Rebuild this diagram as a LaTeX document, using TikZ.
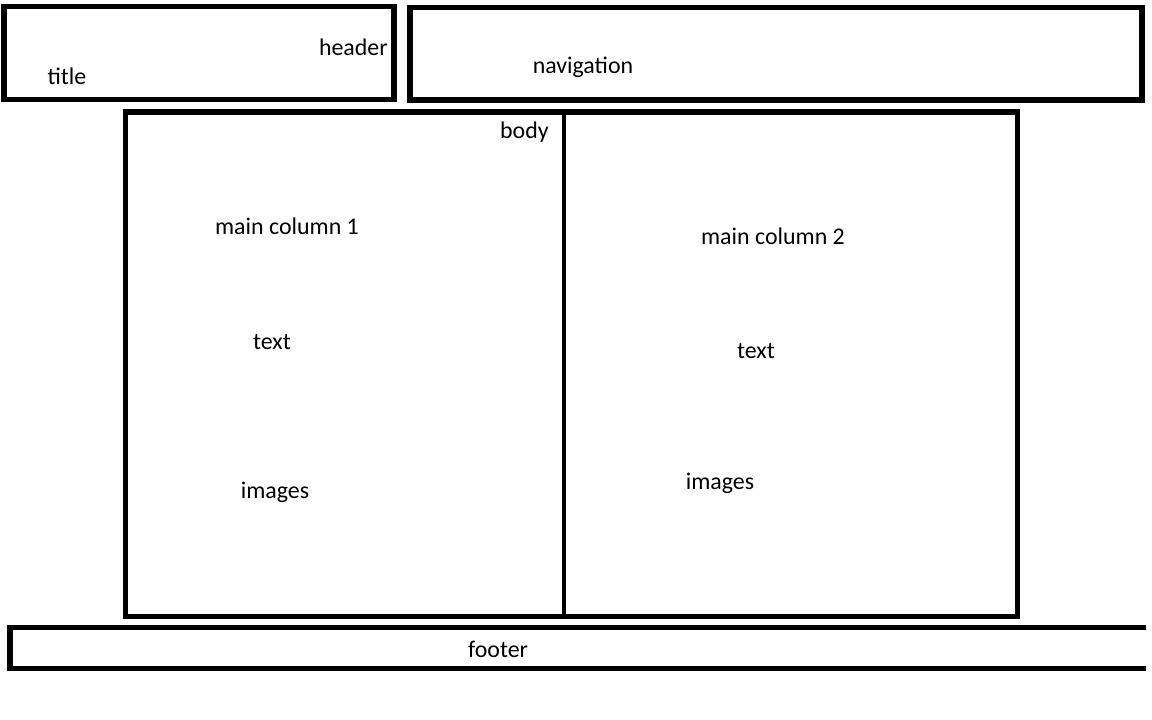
\documentclass[tikz,border=0pt]{standalone}
\usepackage{fontspec}
\setmainfont{Carlito}
\usetikzlibrary{positioning}

\begin{document}
\begin{tikzpicture}[x=0.025cm, y=-0.025cm, font=\fontsize{17}{20}\selectfont]

        % Setup the styles for the boxes and the labels
        \tikzset{box style/.style={draw, line width=3.6pt, line join=miter},
                 divider style/.style={draw, line width=2.6pt},
                 name style/.style={inner sep=0pt, anchor=base}}

        \useasboundingbox (0,0) rectangle (1152,720);

        % Draw the boxes
        \draw[box style] (4,6.5) rectangle (394,99.5);
        \draw[box style] (410,7.5) rectangle (1142,100);
        \draw[box style] (125.5,112) rectangle (1017.5,616.5);
        \draw[box style] (1146,627.5) -- (10,627.5) -- (10,668.5) -- (1146,668.5);

        % Split the body into two columns
        \coordinate (divtop) at (564,112);
        \coordinate (divbot) at (564,616.5);
        \draw[divider style] (divtop) -- (divbot);

        % Put the labels
        \node[name style, anchor=base east] at (388,56)  (header) {header};
        \node[name style] at (67,85)    (title)      {title};
        \node[name style] at (583,74)   (navigation) {navigation};
        \node[name style, anchor=base east] at (549,139) (body) {body};
        \node[name style] at (287,235)  (main1)   {main column 1};
        \node[name style] at (272,350)  (text1)   {text};
        \node[name style] at (275,499)  (images1) {images};
        \node[name style] at (773,245)  (main2)   {main column 2};
        \node[name style] at (756,359)  (text2)   {text};
        \node[name style] at (720,490)  (images2) {images};
        \node[name style] at (498,657)  (footer)  {footer};
    \end{tikzpicture}
\end{document}
